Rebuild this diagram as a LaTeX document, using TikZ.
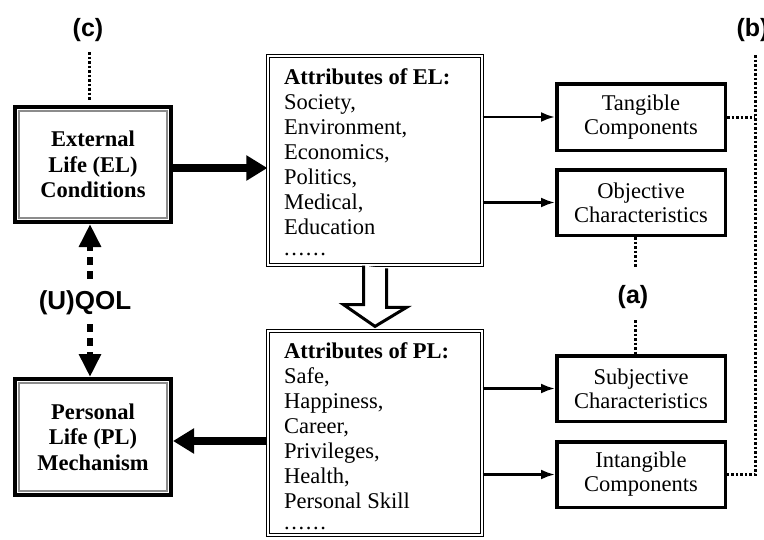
\documentclass[tikz,border=0pt]{standalone}
\usepackage{fontspec}
\setmainfont{Liberation Serif}
\newfontfamily\labelfont{Liberation Sans}
\usetikzlibrary{arrows.meta}
\newcommand{\sixdots}{.\hspace{1.6pt}.\hspace{1.6pt}.\hspace{1.6pt}.\hspace{1.6pt}.\hspace{1.6pt}.}
\begin{document}
\begin{tikzpicture}[x=1pt,y=-1pt,
  mainbox/.style={draw=black, line width=4pt, minimum width=156pt, minimum height=115pt,
    inner sep=0pt, align=center, font=\fontsize{22.5}{25.5}\selectfont\bfseries},
  innerline/.style={draw=black!45, line width=1.8pt},
  attrbox/.style={draw=black, double=white, double distance=1.4pt, line width=1.2pt,
    minimum width=214pt, inner sep=0pt},
  attrtext/.style={inner sep=0pt, align=left, font=\fontsize{22.5}{25}\selectfont},
  sidebox/.style={draw=black, line width=3.5pt, minimum width=168.5pt, minimum height=65.5pt,
    inner sep=0pt, align=center, font=\fontsize{22.5}{24}\selectfont},
  tag/.style={inner sep=0pt, font=\labelfont\bfseries\fontsize{25}{28}\selectfont},
  dotline/.style={line width=3pt, dash pattern=on 2.5pt off 2pt},
  dasharrow/.style={line width=6pt, dash pattern=on 8pt off 6pt,
    -{Triangle[length=23pt,width=21pt]}},
  bigarrow/.style={line width=7.5pt, -{Triangle[length=21pt,width=24pt]}},
  thinarrow/.style={line width=2.5pt, -{Latex[length=14pt,width=10pt]}}
]
\fill[white] (0,0) rectangle (764,539);
\useasboundingbox (0,0) rectangle (764,539);

% main boxes
\node[mainbox] (el) at (93,164.5) {External\\Life (EL)\\Conditions};
\draw[innerline] ([shift={(6pt,-6pt)}]el.north west) rectangle ([shift={(-6pt,6pt)}]el.south east);
\node[mainbox, minimum height=116pt] (pl) at (93,437) {Personal\\Life (PL)\\Mechanism};
\draw[innerline] ([shift={(6pt,-6pt)}]pl.north west) rectangle ([shift={(-6pt,6pt)}]pl.south east);

% attribute boxes
\node[attrbox, minimum height=209pt] (attrEL) at (375,160.5) {};
\node[attrbox, minimum height=204pt] (attrPL) at (375,433) {};
\node[attrtext, anchor=north west] (elt) at (284,68.5)
  {\textbf{Attributes of EL:}\\Society,\\Environment,\\Economics,\\Politics,\\Medical,\\Education\\[-4pt]\sixdots};
\node[attrtext, anchor=north west] (plt) at (284,342.4)
  {\textbf{Attributes of PL:}\\Safe,\\Happiness,\\Career,\\Privileges,\\Health,\\Personal Skill\\[-4pt]\sixdots};

% side boxes
\node[sidebox, minimum height=66.5pt] (tang) at (641,117) {Tangible\\Components};
\node[sidebox] (obj) at (641,202.5) {Objective\\Characteristics};
\node[sidebox] (subj) at (641,388.5) {Subjective\\Characteristics};
\node[sidebox] (intang) at (641,474.5) {Intangible\\Components};

% labels
\node[tag] (lc) at (88,30) {(c)};
\node[tag] (la) at (633,297) {(a)};
\node[tag] (lb) at (752.5,30) {(b)};
\node[tag, font=\labelfont\bfseries\fontsize{26}{28}\selectfont] (qol) at (85,303) {(U)QOL};

% coordinates for free ends
\coordinate (c1) at (89,52);
\coordinate (a1) at (635,268);
\coordinate (a2) at (635,320);
\coordinate (bt) at (755,55);
\coordinate (q1) at (90,279);
\coordinate (q2) at (90,324);

% thick arrows
\draw[bigarrow] ([yshift=-3.5pt]el.east) -- ([yshift=-3.5pt]el.east -| attrEL.west);
\draw[bigarrow] ([yshift=-4pt]pl.east -| attrPL.west) -- ([yshift=-4pt]pl.east);

% dashed QOL arrows
\draw[dasharrow] (q1) -- ([xshift=-3pt]el.south);
\draw[dasharrow] (q2) -- ([xshift=-3pt]pl.north);

% hollow arrow
\coordinate (hs) at (attrEL.south);
\coordinate (ht) at ([yshift=4pt]attrPL.north);
\draw[line width=3pt, fill=white, line join=miter]
  ([xshift=-11.5pt]hs) -- ++(0,39) -- ++(-20,0) -- (ht) -- ++(31.5,-19) -- ++(-20,0) -- ++(0,-39);

% thin arrows
\draw[thinarrow] (tang.west -| attrEL.east) -- (tang.west);
\draw[thinarrow] (obj.west -| attrEL.east) -- (obj.west);
\draw[thinarrow] (subj.west -| attrPL.east) -- (subj.west);
\draw[thinarrow] (intang.west -| attrPL.east) -- (intang.west);

% dotted lines
\draw[dotline] (c1) -- ([xshift=-4pt,yshift=5pt]el.north);
\draw[dotline] ([xshift=-6pt]obj.south) -- (a1);
\draw[dotline] (a2) -- ([xshift=-6pt]subj.north);
\draw[dotline] (bt) -- (bt |- intang.east) -- (intang.east);
\draw[dotline] (tang.east) -- (tang.east -| bt);
\end{tikzpicture}
\end{document}
